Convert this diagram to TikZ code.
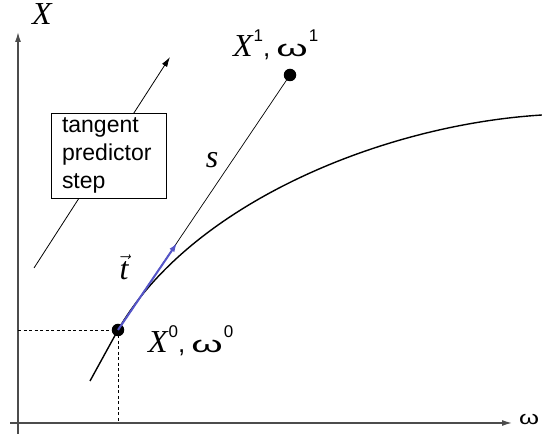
\documentclass[tikz,border=0pt]{standalone}
\usepackage{fontspec}
\setmainfont{Liberation Serif}
\newfontfamily\sansa{Liberation Sans}
\usetikzlibrary{arrows.meta}
\newcommand\mysup[1]{\hspace{1pt}\raisebox{15pt}{\sansa\upshape\fontsize{17}{17}\selectfont #1}}
\newcommand\myomega{{\upshape\sansa\fontsize{23}{24}\selectfont\scalebox{1.75}[1]{ω}}}
\newcommand\mycomma{{\upshape\sansa\fontsize{26}{28}\selectfont ,}}
\begin{document}
\begin{tikzpicture}[x=1pt,y=-1pt,
  axis/.style={draw=black!70,line width=1.3pt,-{Latex[length=10pt,width=6pt]}},
  dot/.style={circle,fill=black,inner sep=0pt,minimum size=12.5pt},
  guide/.style={dashed,line width=0.7pt,dash pattern=on 3pt off 2.5pt},
  thinarrow/.style={line width=0.8pt,-{Latex[length=10pt,width=6pt]}},
  infobox/.style={draw,fill=white,line width=0.8pt,align=left,font=\sansa\fontsize{23}{28}\selectfont,
    minimum width=115pt,minimum height=85pt,inner xsep=11pt,inner ysep=2pt,text width=93pt},
  lbl/.style={inner sep=0pt,font=\fontsize{32}{34}\selectfont}
]
\useasboundingbox (0,0) rectangle (542,435);
% axes
\coordinate (o1) at (18,434);
\coordinate (ytip) at (18,32);
\coordinate (o2) at (10,423);
\coordinate (xtip) at (512,423);
\draw[axis] (o1) -- (ytip);
\draw[axis] (o2) -- (xtip);
\node[lbl,anchor=base] (xl) at (42,25) {\itshape X};
\node[inner sep=0pt,anchor=base west,font=\sansa\fontsize{19}{20}\selectfont] (wl) at (519,425) {\scalebox{1.35}[1]{ω}};
% points
\node[dot] (p0) at (118,330) {};
\node[dot] (p1) at (290,75) {};
\coordinate (yproj) at (18,330);
\coordinate (xproj) at (118,423);
\draw[guide] (yproj) -- (p0.center);
\draw[guide] (p0.center) -- (xproj);
% curve
\coordinate (cs) at (90,381);
\coordinate (ce) at (542,115);
\draw[line width=1.4pt] (cs) -- (p0.center) .. controls (190,205) and (380,125) .. (ce);
% tangent line
\draw[line width=0.7pt] (p0.center) -- (p1.center);
\coordinate (ttip) at (177,243);
\draw[draw={rgb,255:red,85;green,85;blue,200},line width=2pt,-{Latex[length=9pt,width=6pt]}] (p0.center) -- (ttip);
% predictor arrow + box
\coordinate (pa) at (34,268);
\coordinate (pb) at (170,57);
\draw[thinarrow] (pa) -- (pb);
\node[infobox] (box) at (108.5,155.5) {tangent\\predictor\\step};
% labels
\node[lbl,anchor=base west] (l1) at (233,57) {\itshape X\mysup{1}\mycomma\hspace{6pt}\myomega\mysup{1}};
\node[lbl,anchor=base west] (l0) at (148,353) {\itshape X\mysup{0}\mycomma\hspace{6pt}\myomega\mysup{0}};
\node[lbl,anchor=base] (sl) at (212,168) {\itshape s};
\node[lbl,anchor=base] (tl) at (124,280) {$\vec{\mbox{\itshape t}}$};
\end{tikzpicture}
\end{document}
